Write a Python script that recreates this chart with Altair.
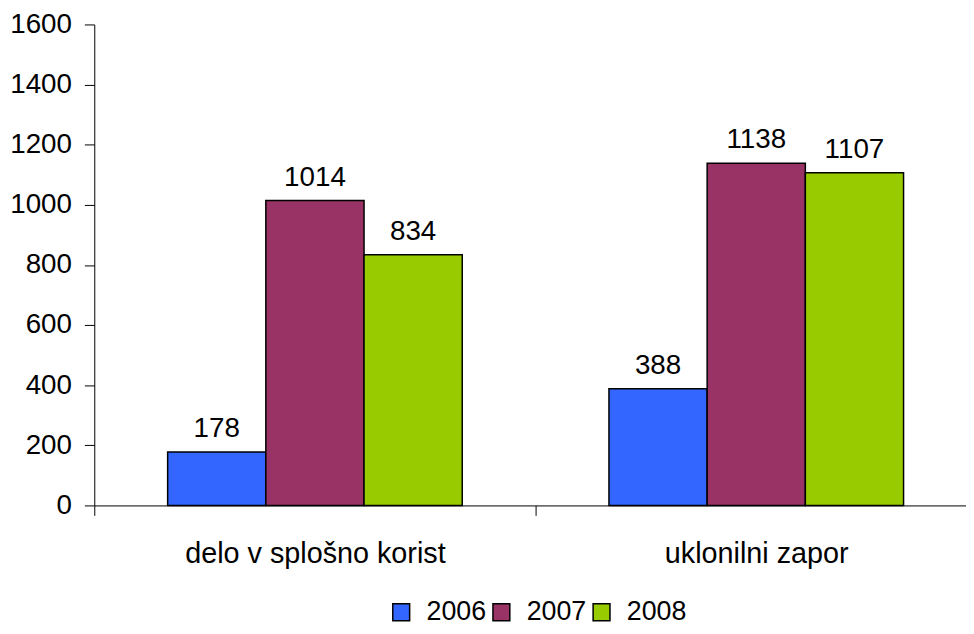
import altair as alt
import pandas as pd

categories = ["delo v splošno korist", "uklonilni zapor"]
years = ["2006", "2007", "2008"]
values_2006 = [178, 388]
values_2007 = [1014, 1138]
values_2008 = [834, 1107]
colors = ["#3366FF", "#993366", "#99CC00"]

rows = []
for i, c in enumerate(categories):
    for y, vals in zip(years, [values_2006, values_2007, values_2008]):
        rows.append({"kategorija": c, "leto": y, "vrednost": vals[i]})
df = pd.DataFrame(rows)

FONT = "Liberation Sans"

x = alt.X("kategorija:N", sort=categories, title=None,
          scale=alt.Scale(paddingInner=0, paddingOuter=0),
          axis=alt.Axis(labelAngle=0, labelFontSize=29, labelFont=FONT, labelColor="black",
                        labelPadding=25, tickSize=10, tickColor="black", domainColor="black",
                        tickBand="extent", domainWidth=1, tickWidth=1, labelLimit=0))
xoff = alt.XOffset("leto:N", sort=years, scale=alt.Scale(paddingInner=0, paddingOuter=0.747))

base = alt.Chart(df)

bars = base.mark_bar(stroke="black", strokeWidth=1.5).encode(
    x=x,
    xOffset=xoff,
    y=alt.Y("vrednost:Q", title=None,
            scale=alt.Scale(domain=[0, 1600], nice=False),
            axis=alt.Axis(values=list(range(0, 1601, 200)), format="d", labelFontSize=28, labelFont=FONT,
                          labelColor="black", labelPadding=13, tickSize=10, tickColor="black",
                          domainColor="black", grid=False, domainWidth=1, tickWidth=1)),
    color=alt.Color("leto:N", sort=years, scale=alt.Scale(domain=years, range=colors),
                    legend=alt.Legend(title=None, orient="none", legendX=296, legendY=579,
                                      direction="horizontal",
                                      symbolType="square", symbolSize=289, symbolStrokeColor="black",
                                      symbolStrokeWidth=1.5, labelFontSize=27, labelFont=FONT,
                                      labelColor="black", labelOffset=12, columnPadding=1)),
)

labels = base.mark_text(fontSize=28, font=FONT, color="black", baseline="alphabetic", dy=-15).encode(
    x=alt.X("kategorija:N", sort=categories),
    xOffset=xoff,
    y="vrednost:Q",
    text="vrednost:Q",
)

chart = alt.layer(bars, labels).properties(
    width=890, height=485,
    autosize=alt.AutoSizeParams(type="none"),
    padding={"left": 87, "top": 14, "right": -11, "bottom": 119},
).configure_view(stroke=None)

chart.save("out.html", embed_options={"renderer": "svg", "actions": False})
